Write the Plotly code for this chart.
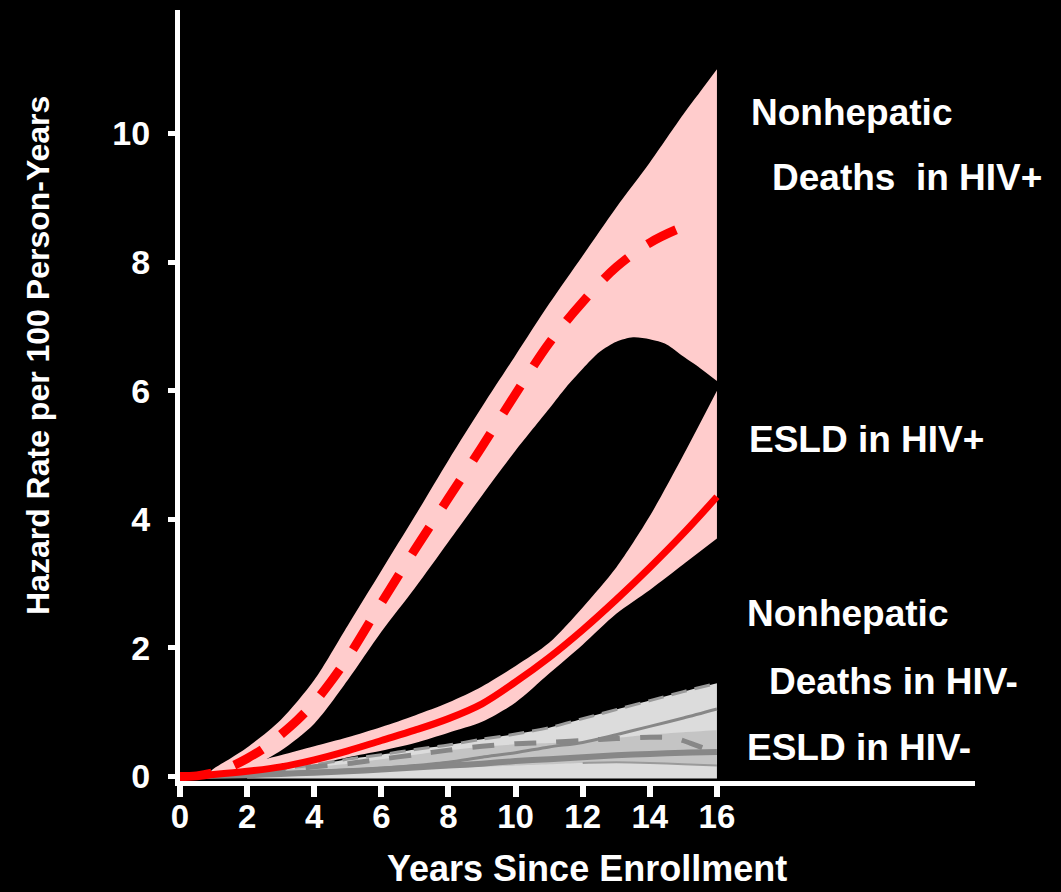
import plotly.graph_objects as go

# ---------------- data ----------------
# Nonhepatic deaths in HIV+ (dashed red) and its confidence band
nh_pos_x = [0, 0.5, 1, 1.5, 2, 2.5, 3, 3.5, 4, 4.5, 5, 6, 7, 8, 9, 10, 11, 12, 13, 14, 15, 15.4]
nh_pos_y = [0.0, 0.01, 0.06, 0.15, 0.28, 0.44, 0.65, 0.88, 1.15, 1.48, 1.85, 2.7, 3.53, 4.33, 5.13, 5.95, 6.74, 7.38, 7.92, 8.3, 8.55, 8.62]
nh_pos_up_x = [0.8, 1, 1.5, 2, 3, 4, 5, 6, 7, 8, 9, 10, 11, 12, 13, 14, 15, 15.5, 16]
nh_pos_up_y = [0.02, 0.12, 0.28, 0.45, 0.88, 1.5, 2.35, 3.2, 4.05, 4.92, 5.75, 6.55, 7.35, 8.1, 8.85, 9.55, 10.3, 10.65, 11.0]
nh_pos_lo_x = [0.8, 1, 1.5, 2, 3, 4, 5, 6, 7, 8, 9, 10, 11, 11.5, 12, 12.5, 13, 13.5, 14, 14.5, 15, 15.5, 16]
nh_pos_lo_y = [0.0, 0.0, 0.05, 0.12, 0.4, 0.82, 1.5, 2.25, 2.93, 3.65, 4.37, 5.07, 5.72, 6.05, 6.34, 6.6, 6.76, 6.83, 6.8, 6.72, 6.53, 6.35, 6.15]

# ESLD in HIV+ (solid red) and its confidence band
es_pos_x = [0, 0.5, 1, 2, 3, 4, 5, 6, 7, 8, 9, 10, 11, 12, 13, 14, 15, 16]
es_pos_y = [0.0, 0.01, 0.03, 0.08, 0.15, 0.26, 0.4, 0.56, 0.72, 0.9, 1.13, 1.47, 1.85, 2.28, 2.75, 3.25, 3.78, 4.35]
es_pos_up = [0.0, 0.02, 0.06, 0.2, 0.33, 0.47, 0.61, 0.77, 0.95, 1.15, 1.4, 1.72, 2.08, 2.63, 3.25, 4.05, 5.0, 6.0]
es_pos_lo = [0.0, 0.0, 0.01, 0.04, 0.09, 0.18, 0.3, 0.4, 0.52, 0.68, 0.85, 1.15, 1.6, 2.05, 2.53, 2.9, 3.3, 3.7]

# HIV- curves (grey)
neg_x = [0, 1, 2, 3, 4, 5, 6, 7, 8, 9, 10, 11, 12, 13, 14, 15, 16]
neg_band_up = [0.0, 0.03, 0.07, 0.12, 0.18, 0.27, 0.34, 0.42, 0.49, 0.58, 0.66, 0.76, 0.9, 1.04, 1.18, 1.32, 1.45]
es_neg_y = [0.0, 0.01, 0.02, 0.04, 0.06, 0.08, 0.11, 0.14, 0.17, 0.2, 0.24, 0.27, 0.3, 0.33, 0.35, 0.37, 0.38]
es_neg_up = [0.0, 0.01, 0.03, 0.05, 0.08, 0.1, 0.13, 0.17, 0.22, 0.3, 0.37, 0.46, 0.53, 0.65, 0.78, 0.91, 1.05]
nh_neg_x = [0, 1, 2, 3, 4, 5, 6, 7, 8, 9, 10, 11, 12, 13, 14, 14.7, 15.2, 15.6]
nh_neg_y = [0.0, 0.02, 0.05, 0.1, 0.15, 0.2, 0.27, 0.34, 0.41, 0.47, 0.51, 0.53, 0.56, 0.59, 0.61, 0.6, 0.52, 0.44]
mid_x = [3, 4, 5, 6, 7, 8, 9, 10, 11, 12, 13, 14, 15, 16]
mid_up = [0.1, 0.15, 0.2, 0.27, 0.34, 0.41, 0.46, 0.5, 0.52, 0.54, 0.6, 0.65, 0.69, 0.72]
mid_lo = [0.04, 0.06, 0.07, 0.09, 0.11, 0.13, 0.15, 0.17, 0.19, 0.21, 0.22, 0.21, 0.19, 0.17]

x_ticks = [0, 2, 4, 6, 8, 10, 12, 14, 16]
y_ticks = [0, 2, 4, 6, 8, 10]

labels = [
    ("Nonhepatic", 16.95, 10.33),
    ("Deaths\u00a0\u00a0in HIV+", 17.58, 9.32),
    ("ESLD in HIV+", 16.89, 5.24),
    ("Nonhepatic", 16.83, 2.53),
    ("Deaths in HIV-", 17.49, 1.47),
    ("ESLD in HIV-", 16.83, 0.45),
]

PINK = "#FFCCCC"
RED = "#FF0000"
LGREY = "#DCDCDC"
MGREY = "#C4C4C4"
DGREY = "#878787"
FONT = "Liberation Sans, Arial, sans-serif"

fig = go.Figure()


def band(xu, yu, xl, yl, color, spline=True):
    shape = "spline" if spline else "linear"
    fig.add_trace(go.Scatter(
        x=xl, y=yl, mode="lines",
        line=dict(width=0, color=color, shape=shape, smoothing=0.8),
        hoverinfo="skip", showlegend=False))
    fig.add_trace(go.Scatter(
        x=xu, y=yu, mode="lines", fill="tonexty", fillcolor=color,
        line=dict(width=0, color=color, shape=shape, smoothing=0.8),
        hoverinfo="skip", showlegend=False))


# pink confidence bands
band(nh_pos_up_x, nh_pos_up_y, nh_pos_lo_x, nh_pos_lo_y, PINK)
band(es_pos_x, es_pos_up, es_pos_x, es_pos_lo, PINK)

# grey bands
gx = neg_x[2:]
band(gx, neg_band_up[2:], gx, [-0.03] * len(gx), LGREY)
band(mid_x, mid_up, mid_x, mid_lo, MGREY)

# grey lines
fig.add_trace(go.Scatter(x=gx, y=neg_band_up[2:], mode="lines",
                         line=dict(color="#9A9A9A", width=3, dash="16px,8px", shape="spline", smoothing=0.8),
                         showlegend=False, hoverinfo="skip"))
fig.add_trace(go.Scatter(x=mid_x[9:], y=mid_lo[9:], mode="lines",
                         line=dict(color="#9A9A9A", width=2, shape="spline", smoothing=0.8),
                         showlegend=False, hoverinfo="skip"))
fig.add_trace(go.Scatter(x=neg_x, y=es_neg_up, mode="lines",
                         line=dict(color=DGREY, width=3, shape="spline", smoothing=0.8),
                         showlegend=False, hoverinfo="skip"))
fig.add_trace(go.Scatter(x=nh_neg_x, y=nh_neg_y, mode="lines",
                         line=dict(color=DGREY, width=5, dash="22px,20px", shape="spline", smoothing=0.8),
                         showlegend=False, hoverinfo="skip"))
fig.add_trace(go.Scatter(x=neg_x, y=es_neg_y, mode="lines",
                         line=dict(color=DGREY, width=6, shape="spline", smoothing=0.8),
                         showlegend=False, hoverinfo="skip"))

# red estimate lines
fig.add_trace(go.Scatter(x=es_pos_x, y=es_pos_y, mode="lines",
                         line=dict(color=RED, width=7, shape="spline"),
                         showlegend=False, hoverinfo="skip"))
fig.add_trace(go.Scatter(x=nh_pos_x, y=nh_pos_y, mode="lines",
                         line=dict(color=RED, width=9, dash="32px,24px", shape="spline"),
                         showlegend=False, hoverinfo="skip"))

annotations = []
for txt, xx, yy in labels:
    annotations.append(dict(
        text=txt, x=xx, y=yy, xref="x", yref="y", showarrow=False,
        xanchor="left", yanchor="middle",
        font=dict(family=FONT, size=37, color="white", weight="bold")))

annotations.append(dict(
    text="Hazard Rate per 100 Person-Years", textangle=-90,
    x=(38 - 180) / 795, y=(781 - 356) / 771, xref="paper", yref="paper",
    showarrow=False, xanchor="center", yanchor="middle",
    font=dict(family=FONT, size=32, color="white", weight="bold")))
annotations.append(dict(
    text="Years Since Enrollment",
    x=(587 - 180) / 795, y=(781 - 868) / 771, xref="paper", yref="paper",
    showarrow=False, xanchor="center", yanchor="middle",
    font=dict(family=FONT, size=36, color="white", weight="bold")))

fig.update_layout(
    width=1061, height=892,
    margin=dict(l=180, r=86, t=10, b=111, pad=0),
    paper_bgcolor="black", plot_bgcolor="black",
    showlegend=False,
    annotations=annotations,
    xaxis=dict(range=[0, 23.69], showgrid=False, zeroline=False,
               showline=True, linecolor="white", linewidth=5,
               ticks="outside", tickvals=x_ticks, ticklen=11, tickwidth=6,
               tickcolor="white", ticklabelstandoff=-9,
               tickfont=dict(family=FONT, size=33, color="white", weight="bold")),
    yaxis=dict(range=[-0.07, 11.92], showgrid=False, zeroline=False,
               showline=True, linecolor="white", linewidth=5,
               ticks="outside", tickvals=y_ticks, ticklen=7, tickwidth=5,
               tickcolor="white", ticklabelstandoff=11,
               tickfont=dict(family=FONT, size=34, color="white", weight="bold")),
)

fig.write_html("out.html")
